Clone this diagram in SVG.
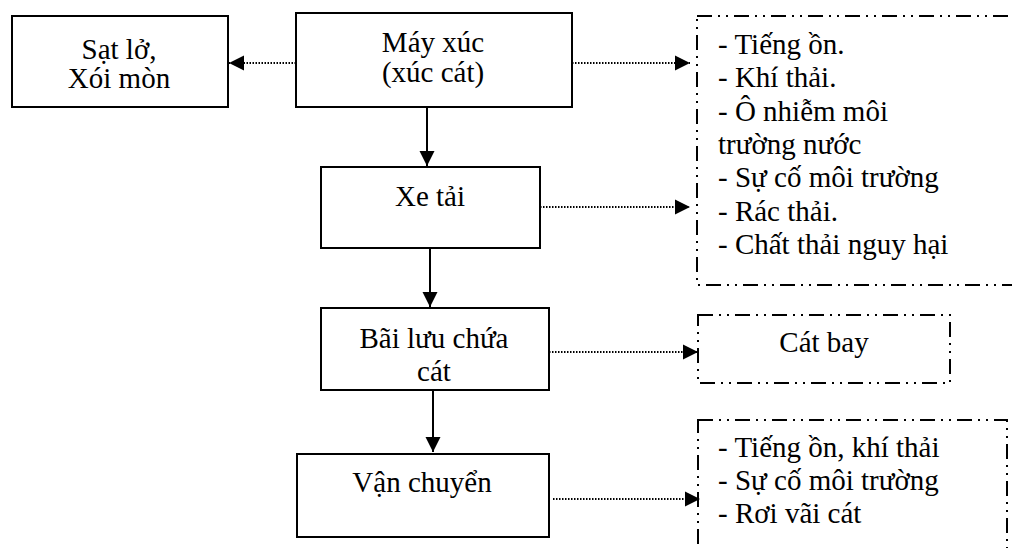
<svg xmlns="http://www.w3.org/2000/svg" width="1012" height="548" viewBox="0 0 1012 548">
<style>
  text { font-family: "Liberation Serif", "Times New Roman", serif; font-size: 29px; fill: #000; }
  .c { text-anchor: middle; }
  .box { fill: #fff; stroke: #000; stroke-width: 2; }
  .dbox { fill: none; stroke: #000; stroke-width: 2; stroke-dasharray: 15 6 2 6 2 6; }
  .dot { fill: none; stroke: #000; stroke-width: 1.8; stroke-dasharray: 1.5 1.5; }
  .solid { fill: none; stroke: #000; stroke-width: 2; }
</style>
<defs>
  <marker id="ah" markerUnits="userSpaceOnUse" markerWidth="16" markerHeight="16" viewBox="0 0 16 16" refX="15" refY="8" orient="auto">
    <path d="M0,0.5 L15,8 L0,15.5 Z" fill="#000"/>
  </marker>
</defs>
<rect width="1012" height="548" fill="#fff"/>
<g id="connectors">
  <line class="dot" x1="296" y1="63" x2="229" y2="63" marker-end="url(#ah)"/>
  <line class="dot" x1="572" y1="63" x2="690" y2="63" marker-end="url(#ah)"/>
  <line class="dot" x1="540" y1="207" x2="690" y2="207" marker-end="url(#ah)"/>
  <line class="dot" x1="549" y1="352" x2="698" y2="352" marker-end="url(#ah)"/>
  <line class="dot" x1="553" y1="499" x2="700" y2="499" marker-end="url(#ah)"/>
  <line class="solid" x1="427" y1="107" x2="427" y2="166" marker-end="url(#ah)"/>
  <line class="solid" x1="430" y1="248" x2="430" y2="307" marker-end="url(#ah)"/>
  <line class="solid" x1="433" y1="390" x2="433" y2="452" marker-end="url(#ah)"/>
</g>
<g id="sat-lo">
  <rect class="box" x="12" y="16" width="216" height="91"/>
  <text class="c" x="119" y="59">Sạt lở,</text>
  <text class="c" x="119" y="88">Xói mòn</text>
</g>
<g id="may-xuc">
  <rect class="box" x="296" y="13" width="276" height="94"/>
  <text class="c" x="433" y="52">Máy xúc</text>
  <text class="c" x="433" y="82">(xúc cát)</text>
</g>
<g id="xe-tai">
  <rect class="box" x="321" y="167" width="219" height="81"/>
  <text class="c" x="430" y="206">Xe tải</text>
</g>
<g id="bai-luu-chua">
  <rect class="box" x="321" y="308" width="228" height="82"/>
  <text class="c" x="434" y="348">Bãi lưu chứa</text>
  <text class="c" x="434" y="381">cát</text>
</g>
<g id="van-chuyen">
  <rect class="box" x="297" y="454" width="252" height="83"/>
  <text class="c" x="422" y="492">Vận chuyển</text>
</g>
<g id="impacts-1">
  <rect class="dbox" x="697" y="16" width="340" height="269"/>
  <text x="718" y="54">- Tiếng ồn.</text>
  <text x="718" y="87">- Khí thải.</text>
  <text x="718" y="121">- Ô nhiễm môi</text>
  <text x="718" y="154">trường nước</text>
  <text x="718" y="187">- Sự cố môi trường</text>
  <text x="718" y="221">- Rác thải.</text>
  <text x="718" y="254">- Chất thải nguy hại</text>
</g>
<g id="cat-bay">
  <rect class="dbox" x="698" y="315" width="252" height="68"/>
  <text class="c" x="824" y="352">Cát bay</text>
</g>
<g id="impacts-2">
  <rect class="dbox" x="698" y="420" width="309" height="160"/>
  <text x="718" y="457">- Tiếng ồn, khí thải</text>
  <text x="718" y="490">- Sự cố môi trường</text>
  <text x="718" y="523">- Rơi vãi cát</text>
</g>
</svg>
